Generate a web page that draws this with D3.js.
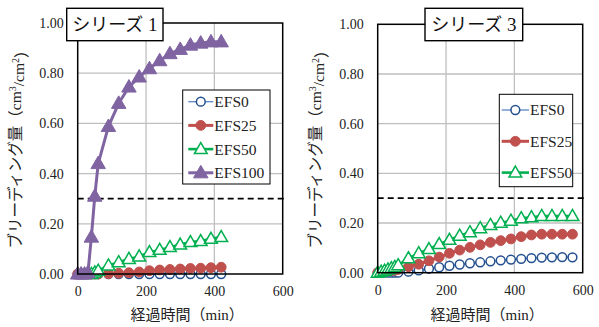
<!DOCTYPE html>
<html><head><meta charset="utf-8">
<script src="https://cdn.jsdelivr.net/npm/d3@7"></script>
<style>
html,body{margin:0;padding:0;background:#fff;}
svg{display:block;}
</style></head>
<body>
<script>
// ---------- DATA ----------
const xTicks = [0, 200, 400, 600];
const yTicks = [0, 0.2, 0.4, 0.6, 0.8, 1.0];
const threshold = 0.30;

const s1Time = [0,10,20,30,40,50,60,90,120,150,180,210,240,270,300,330,360,390,420];
const s1Time50 = [40,50,60,90,120,150,180,210,240,270,300,330,360,390,420];
const s1EFS0 = [0,0,0,0,0,0,0,0,0,0,0,0,0,0,0,0,0,0,0];
const s1EFS25 = [0,0,0,0,0,0,0,0.001,0.003,0.005,0.008,0.013,0.016,0.018,0.02,0.022,0.023,0.025,0.027];
const s1EFS50 = [0,0.006,0.013,0.034,0.047,0.06,0.07,0.087,0.096,0.107,0.117,0.127,0.131,0.14,0.147];
const s1EFS100 = [0,0,0,0.005,0.147,0.31,0.44,0.588,0.68,0.745,0.785,0.818,0.85,0.878,0.895,0.912,0.92,0.925,0.925];

const s3Time = [0,10,20,30,40,50,60,90,120,150,180,210,240,270,300,330,360,390,420,450,480,510,540,570];
const s3EFS0 = [0,0,0,0,0,0,0,0.004,0.009,0.016,0.022,0.028,0.033,0.038,0.042,0.046,0.05,0.053,0.056,0.059,0.061,0.062,0.063,0.062];
const s3EFS25 = [0,0.002,0.004,0.006,0.008,0.01,0.013,0.024,0.034,0.048,0.063,0.078,0.091,0.102,0.112,0.122,0.129,0.136,0.145,0.152,0.155,0.155,0.155,0.155];
const s3EFS50 = [0,0.004,0.008,0.013,0.018,0.023,0.03,0.058,0.078,0.095,0.115,0.132,0.149,0.163,0.179,0.192,0.201,0.209,0.219,0.223,0.228,0.228,0.228,0.228];

const seriesNames1 = ["EFS0","EFS25","EFS50","EFS100"];
const seriesNames3 = ["EFS0","EFS25","EFS50"];
const panelTitles = ["シリーズ", "シリーズ"];
const panelNumbers = ["1", "3"];
const xTitle = "経過時間";
const yTitle = "ブリーディング量";

// ---------- STYLES ----------
const SERIF = "'Liberation Serif'";
const CJK = "'Noto Sans CJK JP'";
const styles = {
  EFS0:   {line:"#5b86c4", lw:1.3, marker:"circle", fill:"#fff", stroke:"#24508f", r:4.4, sw:1.5},
  EFS25:  {line:"#c0504d", lw:3,   marker:"circle", fill:"#c0504d", stroke:"#c0504d", r:4.9, sw:1},
  EFS50:  {line:"#00b050", lw:2.6, marker:"triangle", fill:"#fff", stroke:"#00b050", r:5.2, sw:1.5},
  EFS100: {line:"#8064a2", lw:3,   marker:"triangle", fill:"#8064a2", stroke:"#8064a2", r:5.9, sw:1}
};

const W = 599, H = 327;
const svg = d3.select("body").append("svg").attr("width", W).attr("height", H);

function drawMarker(g, type, st, x, y) {
  if (type === "circle") {
    g.append("circle").attr("cx", x).attr("cy", y).attr("r", st.r)
      .attr("fill", st.fill).attr("stroke", st.stroke).attr("stroke-width", st.sw);
  } else {
    const sym = d3.symbol().type(d3.symbolTriangle).size(st.r * st.r * 2.6);
    g.append("path").attr("d", sym()).attr("transform", `translate(${x},${y + st.r*0.15})`)
      .attr("fill", st.fill).attr("stroke", st.stroke).attr("stroke-width", st.sw)
      .attr("stroke-linejoin", "miter");
  }
}

function panel(opt) {
  const x = d3.scaleLinear().domain([0, 600]).range([opt.x0, opt.x1]);
  const y = d3.scaleLinear().domain([0, 1]).range([opt.y1, opt.y0]);
  const g = svg.append("g");

  // gridlines
  g.append("g").selectAll("line").data(xTicks.slice(1, -1)).join("line")
    .attr("x1", d => x(d)).attr("x2", d => x(d)).attr("y1", opt.y0).attr("y2", opt.y1)
    .attr("stroke", "#bfbfbf").attr("stroke-width", 1.3);
  g.append("g").selectAll("line").data(yTicks.slice(1, -1)).join("line")
    .attr("x1", opt.x0).attr("x2", opt.x1).attr("y1", d => y(d)).attr("y2", d => y(d))
    .attr("stroke", "#bfbfbf").attr("stroke-width", 1.3);

  // axes (labels only)
  const ya = g.append("g").attr("transform", `translate(${opt.x0},0)`)
    .call(d3.axisLeft(y).tickValues(yTicks).tickFormat(d3.format(".2f")).tickSize(0).tickPadding(14));
  ya.select(".domain").remove();
  ya.attr("font-family", null).attr("font-size", null);
  ya.selectAll("text").style("font-family", SERIF).style("font-size", "14px").attr("fill", "#222");
  const xa = g.append("g").attr("transform", `translate(0,${opt.y1})`)
    .call(d3.axisBottom(x).tickValues(xTicks).tickFormat(d3.format("d")).tickSize(0).tickPadding(12));
  xa.select(".domain").remove();
  xa.attr("font-family", null).attr("font-size", null);
  xa.selectAll("text").style("font-family", SERIF).style("font-size", "14px").attr("fill", "#222");

  // threshold dashed line
  g.append("line").attr("x1", opt.x0).attr("x2", opt.x1 + 1).attr("y1", y(threshold)).attr("y2", y(threshold))
    .attr("stroke", "#000").attr("stroke-width", 1.8).attr("stroke-dasharray", "6,4");

  // series
  const line = d3.line().x(d => x(d[0])).y(d => y(d[1]));
  opt.series.forEach(s => {
    const st = styles[s.name];
    const pts = s.t.map((t, i) => [t, s.v[i]]);
    g.append("path").datum(pts).attr("d", line).attr("fill", "none")
      .attr("stroke", st.line).attr("stroke-width", st.lw).attr("stroke-linejoin", "round");
    const mg = g.append("g");
    pts.forEach(p => drawMarker(mg, st.marker, st, x(p[0]), y(p[1])));
  });

  // plot border
  g.append("rect").attr("x", opt.x0).attr("y", opt.y0).attr("width", opt.x1 - opt.x0).attr("height", opt.y1 - opt.y0)
    .attr("fill", "none").attr("stroke", "#000").attr("stroke-width", 1.5);

  // legend
  const L = opt.legend;
  g.append("rect").attr("x", L.x).attr("y", L.y).attr("width", L.w).attr("height", L.h)
    .attr("fill", "#fff").attr("stroke", "#000").attr("stroke-width", 1);
  opt.series.forEach((s, i) => {
    const st = styles[s.name];
    const yy = L.row0 + i * L.dy;
    g.append("line").attr("x1", L.lx0).attr("x2", L.lx1).attr("y1", yy).attr("y2", yy)
      .attr("stroke", st.line).attr("stroke-width", st.lw);
    drawMarker(g, st.marker, st, (L.lx0 + L.lx1) / 2, yy);
    g.append("text").attr("x", L.lx1 + 1).attr("y", yy).attr("dy", "0.35em")
      .style("font-family", SERIF).style("font-size", "15.5px").attr("fill", "#222").text(s.name);
  });

  // title box
  const T = opt.title;
  g.append("rect").attr("x", T.x).attr("y", T.y).attr("width", T.w).attr("height", T.h)
    .attr("fill", "#fff").attr("stroke", "#000").attr("stroke-width", 1.4);
  const tt = g.append("text").attr("x", T.x + T.w / 2).attr("y", T.y + T.h / 2).attr("dy", "0.36em")
    .attr("text-anchor", "middle").style("font-size", "18px").attr("fill", "#111");
  tt.append("tspan").style("font-family", CJK).text(T.label);
  tt.append("tspan").style("font-family", SERIF).style("font-size", "19px").text(" " + T.num);

  // x title
  const xt = g.append("text").attr("x", (opt.x0 + opt.x1) / 2 + 7).attr("y", 320)
    .attr("text-anchor", "middle").style("font-size", "15px").attr("fill", "#222");
  xt.append("tspan").style("font-family", CJK).text(xTitle + "（");
  xt.append("tspan").style("font-family", SERIF).text("min");
  xt.append("tspan").style("font-family", CJK).text("）");

  // y title
  const cx = opt.x0 - 62, cy = (opt.y0 + opt.y1) / 2 - 3;
  const yt = g.append("text").attr("transform", `translate(${cx},${cy}) rotate(-90)`)
    .attr("text-anchor", "middle").attr("dy", "0.36em").style("font-size", "15.5px").attr("fill", "#222");
  yt.append("tspan").style("font-family", CJK).text(yTitle + "（");
  yt.append("tspan").style("font-family", SERIF).text("cm");
  yt.append("tspan").style("font-family", SERIF).style("font-size", "10px").attr("dy", "-0.5em").text("3");
  yt.append("tspan").style("font-family", SERIF).attr("dy", "0.5em").text("/cm");
  yt.append("tspan").style("font-family", SERIF).style("font-size", "10px").attr("dy", "-0.5em").text("2");
  yt.append("tspan").style("font-family", CJK).attr("dy", "0.5em").text("）");
}

panel({
  x0: 77.7, x1: 282.7, y0: 23, y1: 274,
  series: [
    {name: seriesNames1[0], t: s1Time, v: s1EFS0},
    {name: seriesNames1[1], t: s1Time, v: s1EFS25},
    {name: seriesNames1[2], t: s1Time50, v: s1EFS50},
    {name: seriesNames1[3], t: s1Time, v: s1EFS100}
  ],
  legend: {x: 182.7, y: 90, w: 87.3, h: 94, row0: 101.7, dy: 23.7, lx0: 188.3, lx1: 213.3},
  title: {x: 66.7, y: 8.3, w: 96.3, h: 32.4, label: panelTitles[0], num: panelNumbers[0]}
});

panel({
  x0: 377.7, x1: 582.7, y0: 24.3, y1: 272.7,
  series: [
    {name: seriesNames3[0], t: s3Time, v: s3EFS0},
    {name: seriesNames3[1], t: s3Time, v: s3EFS25},
    {name: seriesNames3[2], t: s3Time, v: s3EFS50}
  ],
  legend: {x: 499.3, y: 94.3, w: 73.4, h: 92.4, row0: 110, dy: 31.3, lx0: 501.7, lx1: 529},
  title: {x: 425, y: 8.3, w: 97.7, h: 32.4, label: panelTitles[1], num: panelNumbers[1]}
});
</script>
</body></html>
